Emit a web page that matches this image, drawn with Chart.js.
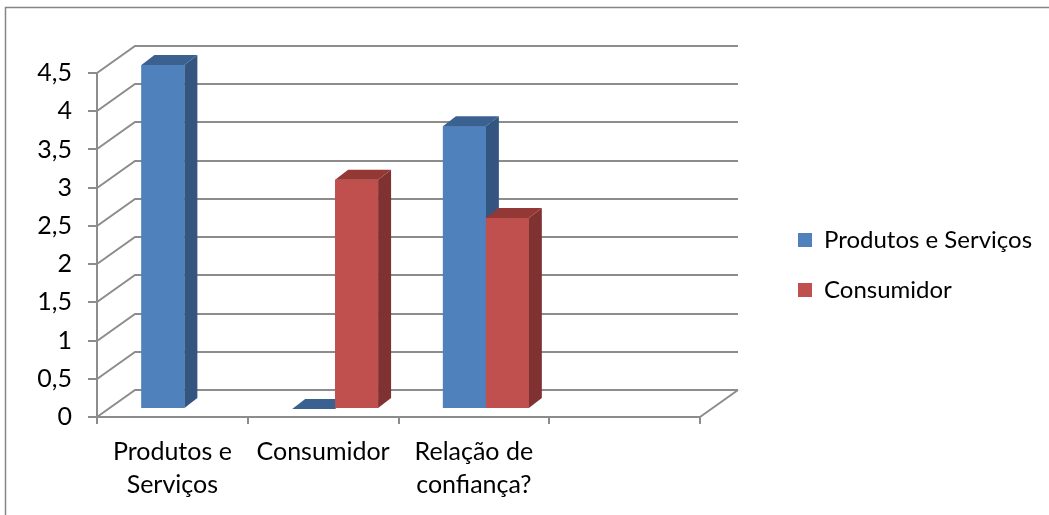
<!DOCTYPE html>
<html>
<head>
<meta charset="utf-8">
<script src="https://cdn.jsdelivr.net/npm/chart.js@4"></script>
<style>
  html, body { margin: 0; padding: 0; background: #fff; }
</style>
</head>
<body>
<canvas id="graf" width="1049" height="515"></canvas>
<script>
// podaci
const kategorije = [['Produtos e', 'Serviços'], 'Consumidor', ['Relação de', 'confiança?'], ''];
const nazivSerije1 = 'Produtos e Serviços';
const nazivSerije2 = 'Consumidor';
const produtosServicos = [4.5, 0, 3.7, null];
const consumidor = [null, 3, 2.5, null];
const yMin = 0;
const yMax = 4.5;
const yKorak = 0.5;

// boje (prednja strana, bok, vrh)
const plava = ['#4f81bd', '#34557f', '#3b6190'];
const crvena = ['#c0504d', '#7f3231', '#943835'];
const sivaLinija = '#8c8c8c';
const font = 'Lato';
const velicinaFonta = 25;

// 3D pomaci
const zid = { x: 38, y: -27 };     // straznji zid
const dubina = { x: 13, y: -10 };  // dubina stupca
const pomak = { x: 12, y: -8 };    // stupci malo uvuceni

const efekt3d = {
    id: 'efekt3d',
    beforeDraw(chart) {
        const ctx = chart.ctx;
        ctx.save();
        ctx.strokeStyle = '#868686';
        ctx.lineWidth = 1.5;
        ctx.strokeRect(5.5, 7.5, chart.width + 40, chart.height + 40);
        ctx.restore();

        // legenda desno od grafa
        const lg = chart.legend;
        const pad = lg.options.labels.padding;
        lg.left = 798 - pad;
        lg.right = lg.left + lg.width;
        lg.top = 228 - pad;
        lg.bottom = chart.height;
    },
    beforeDatasetsDraw(chart) {
        const { ctx, chartArea, scales } = chart;
        const y = scales.y;
        ctx.save();
        ctx.strokeStyle = sivaLinija;
        ctx.lineWidth = 2;
        ctx.beginPath();
        for (let v = yMin; v <= yMax + 1e-9; v += yKorak) {
            const py = Math.round(y.getPixelForValue(v));
            ctx.moveTo(chartArea.left, py);
            ctx.lineTo(chartArea.left + zid.x, py + zid.y);
            ctx.lineTo(chartArea.right + zid.x, py + zid.y);
        }
        const dno = Math.round(y.getPixelForValue(0));
        ctx.moveTo(chartArea.right, dno);
        ctx.lineTo(chartArea.right + zid.x, dno + zid.y);
        ctx.stroke();
        ctx.restore();

        ctx.save();
        ctx.translate(pomak.x, pomak.y);
    },
    afterDatasetsDraw(chart) {
        const ctx = chart.ctx;
        // redom po serijama: bok i vrh, pa prednja strana preko prethodne serije
        chart.data.datasets.forEach((ds, di) => {
            const boje = ds.boje3d;
            chart.getDatasetMeta(di).data.forEach((el, i) => {
                if (ds.data[i] === null) return;
                const p = el.getProps(['x', 'y', 'base', 'width'], true);
                const l = p.x - p.width / 2;
                const r = p.x + p.width / 2;
                const vrh = Math.min(p.y, p.base);
                if (p.base - vrh > 0.5) {
                    ctx.fillStyle = boje[1];
                    ctx.beginPath();
                    ctx.moveTo(r, vrh);
                    ctx.lineTo(r + dubina.x, vrh + dubina.y);
                    ctx.lineTo(r + dubina.x, p.base + dubina.y);
                    ctx.lineTo(r, p.base);
                    ctx.closePath();
                    ctx.fill();
                    el.draw(ctx);
                }
                ctx.fillStyle = boje[2];
                ctx.beginPath();
                ctx.moveTo(l, vrh);
                ctx.lineTo(r, vrh);
                ctx.lineTo(r + dubina.x, vrh + dubina.y);
                ctx.lineTo(l + dubina.x, vrh + dubina.y);
                ctx.closePath();
                ctx.fill();
            });
        });
        ctx.restore();
    }
};

const ctx = document.getElementById('graf').getContext('2d');
new Chart(ctx, {
    type: 'bar',
    data: {
        labels: kategorije,
        datasets: [{
            label: nazivSerije1,
            data: produtosServicos,
            backgroundColor: plava[0],
            boje3d: plava,
            clip: false
        }, {
            label: nazivSerije2,
            data: consumidor,
            backgroundColor: crvena[0],
            boje3d: crvena,
            clip: false
        }]
    },
    options: {
        responsive: false,
        animation: false,
        categoryPercentage: 0.57,
        barPercentage: 1,
        layout: {
            padding: { left: 0, top: 73, right: 349, bottom: 0 }
        },
        plugins: {
            tooltip: { enabled: false },
            legend: {
                position: 'chartArea',
                align: 'start',
                labels: {
                    boxWidth: 14,
                    boxHeight: 14,
                    padding: 26,
                    color: '#000',
                    font: { family: font, size: 24 }
                }
            }
        },
        scales: {
            x: {
                afterFit: (s) => { s.height = 98; },
                grid: { drawOnChartArea: false, tickLength: 7, color: sivaLinija, lineWidth: 2 },
                border: { color: sivaLinija, width: 2 },
                ticks: {
                    color: '#000',
                    padding: 11,
                    maxRotation: 0,
                    autoSkip: false,
                    font: { family: font, size: velicinaFonta, lineHeight: 1.32 }
                }
            },
            y: {
                min: yMin,
                max: yMax,
                afterFit: (s) => { s.width = 97; },
                grid: { drawOnChartArea: false, tickLength: 9, color: sivaLinija, lineWidth: 2 },
                border: { color: sivaLinija, width: 2 },
                ticks: {
                    stepSize: yKorak,
                    color: '#000',
                    padding: 16,
                    font: { family: font, size: velicinaFonta },
                    callback: (v) => String(v).replace('.', ',')
                }
            }
        }
    },
    plugins: [efekt3d]
});
</script>
</body>
</html>
